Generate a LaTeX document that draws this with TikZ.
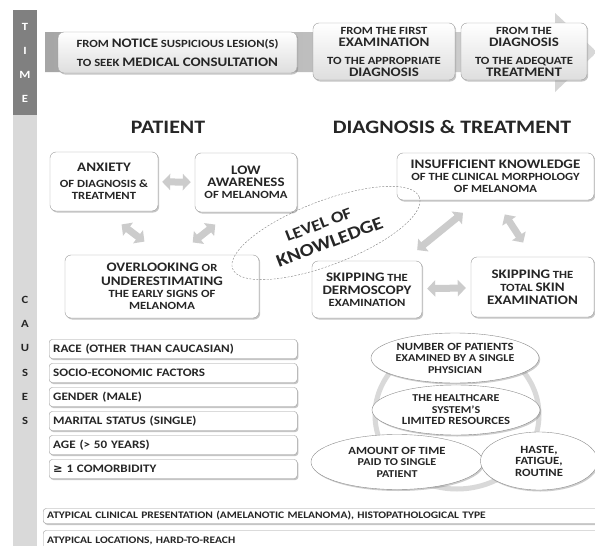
\documentclass[tikz,border=0pt]{standalone}
\usepackage{fontspec}
\setmainfont[FakeStretch=1.15]{Carlito}
\newfontfamily\symfont{DejaVu Sans}
\usetikzlibrary{positioning,shapes.geometric,shadows,arrows.meta}

\newcommand{\bigtxt}{\fontsize{13}{14}\selectfont}
\newcommand{\smtxt}{\fontsize{11}{12}\selectfont}

\tikzset{
  box/.style={draw=black!40, rounded corners=6pt, fill=white, align=center,
    font=\bfseries\smtxt, text=black!85, inner sep=1pt,
    drop shadow={shadow xshift=1.2pt, shadow yshift=-1.5pt, fill=black!50, opacity=.45}},
  timebox/.style={box, top color=white, bottom color=black!13},
  listbox/.style={box, rounded corners=3pt, anchor=west, minimum height=19pt,
    text width=240pt, align=left, inner xsep=4pt, font=\bfseries\fontsize{11.4}{12}\selectfont},
  oval/.style={ellipse, draw=black!45, fill=white, align=center, inner sep=0pt,
    font=\bfseries\fontsize{10.5}{11.5}\selectfont, text=black!85,
    drop shadow={shadow xshift=1.2pt, shadow yshift=-1.5pt, fill=black!50, opacity=.4}},
  dblarrow/.style={draw=black!20, line width=7pt,
    {Triangle[width=16pt,length=8pt]}-{Triangle[width=16pt,length=8pt]}},
  barletter/.style={font=\bfseries\fontsize{11}{11}\selectfont}
}

\begin{document}
\begin{tikzpicture}[x=1pt, y=-1pt]
    \useasboundingbox (0, 0) rectangle (595, 546);
    \fill[white] (0, 0) rectangle (595, 546);

    % side bar
    \fill[black!50] (13, 10) rectangle (37, 115);
    \fill[black!15] (13, 115) rectangle (37, 546);
    \foreach \ch [count=\i] in {T, I, M, E}
      \node [barletter, white] (tm\i) at (25, 27 + 24*\i - 24) {\ch};
    \foreach \ch [count=\i] in {C, A, U, S, E, S}
      \node [barletter, black!85] (cs\i) at (25, 300 + 24.2*\i - 24.2) {\ch};

    % time line
    \shade[left color=black!35, right color=black!15]
      (45, 32) -- (555, 32) -- (555, 13) -- (597, 52) -- (555, 92) -- (555, 72) -- (45, 72) -- cycle;
    \node (t1) [timebox, minimum width=239pt, minimum height=41pt] at (177.5, 52.5)
      {FROM {\bigtxt NOTICE} SUSPICIOUS LESION(S)\\[7pt] TO SEEK {\bigtxt MEDICAL CONSULTATION}};
    \node (t2) [timebox, minimum width=142pt, minimum height=57pt] at (384, 51.5)
      {FROM THE FIRST\\ {\bigtxt EXAMINATION}\\[6pt] TO THE APPROPRIATE\\ {\bigtxt DIAGNOSIS}};
    \node (t3) [timebox, minimum width=126pt, minimum height=57pt] at (524, 51.5)
      {FROM THE\\ {\bigtxt DIAGNOSIS}\\[6pt] TO THE ADEQUATE\\ {\bigtxt TREATMENT}};

    \node (pat) [font=\bfseries\fontsize{19}{20}\selectfont, text=black!85] at (168, 127) {PATIENT};
    \node (dt) [font=\bfseries\fontsize{19}{20}\selectfont, text=black!85] at (452, 127) {DIAGNOSIS \& TREATMENT};

    % patient
    \node (anx) [box, minimum width=108pt, minimum height=59pt] at (104, 181.5)
      {{\bigtxt ANXIETY}\\[4pt] OF DIAGNOSIS \&\\ TREATMENT};
    \node (low) [box, minimum width=102pt, minimum height=59pt] at (246, 182.5)
      {{\bigtxt LOW}\\ {\bigtxt AWARENESS}\\ OF MELANOMA};
    \node (over) [box, minimum width=194pt, minimum height=63pt] at (162, 286.5)
      {{\bigtxt OVERLOOKING} OR\\[2pt] {\bigtxt UNDERESTIMATING}\\ THE EARLY SIGNS OF\\ MELANOMA};
    \draw [dblarrow, shorten <=4pt, shorten >=4pt] (anx) -- (low);
    \draw [dblarrow, shorten <=22pt, shorten >=22pt] (anx.south) -- (over.north);
    \draw [dblarrow, shorten <=20pt, shorten >=20pt] ([xshift=-15pt]low.south) -- ([xshift=15pt]over.north);

    % diagnosis & treatment
    \node (ins) [box, minimum width=197pt, minimum height=47pt] at (495.5, 176.5)
      {{\bigtxt INSUFFICIENT KNOWLEDGE}\\ OF THE CLINICAL MORPHOLOGY\\ OF MELANOMA};
    \node (derm) [box, minimum width=110pt, minimum height=57pt] at (367, 289.5)
      {{\bigtxt SKIPPING} THE\\[1pt] {\bigtxt DERMOSCOPY}\\ EXAMINATION};
    \node (skin) [box, minimum width=123pt, minimum height=60pt] at (532.5, 287)
      {{\bigtxt SKIPPING} THE\\[1pt] TOTAL {\bigtxt SKIN}\\[1pt] {\bigtxt EXAMINATION}};
    \draw [dblarrow, shorten <=20pt, shorten >=17pt] ([xshift=-17pt]ins.south) -- ([xshift=37pt]derm.north);
    \draw [dblarrow, shorten <=17pt, shorten >=17pt] (ins.south) -- (skin.north);
    \draw [dblarrow, shorten <=5pt, shorten >=5pt] (derm) -- (skin);

    \node (lok) [ellipse, draw=black!50, dash pattern=on 2pt off 1.5pt, rotate=21,
      minimum width=200pt, minimum height=64pt, inner sep=0pt, align=center, text=black!85,
      font=\bfseries\fontsize{18}{21}\selectfont] at (326, 233)
      {\hspace*{-8pt}{\fontsize{16}{21}\selectfont LEVEL OF}\\ KNOWLEDGE};

    % patient factors
    \foreach \txt [count=\i] in {{RACE (OTHER THAN CAUCASIAN)}, {SOCIO-ECONOMIC FACTORS},
        {GENDER (MALE)}, {MARITAL STATUS (SINGLE)}, {AGE (> 50 YEARS)}, {{\symfont\bfseries ≥} 1 COMORBIDITY}}
      \node (f\i) [listbox] at (49, 349 + 24*\i - 24) {\txt};

    % healthcare system
    \draw [black!15, line width=5pt] (457, 415) ellipse [x radius=82, y radius=74];
    \node (n1) [oval, minimum width=166pt, minimum height=50pt] at (455, 358)
      {{\fontsize{11}{11.5}\selectfont NUMBER OF PATIENTS}\\ EXAMINED BY A SINGLE\\ PHYSICIAN};
    \node (n2) [oval, minimum width=168pt, minimum height=50pt] at (456, 410)
      {THE HEALTHCARE\\ SYSTEM'S\\ {\fontsize{11}{11.5}\selectfont LIMITED RESOURCES}};
    \node (n3) [oval, minimum width=172pt, minimum height=55pt] at (397, 462)
      {{\fontsize{11}{11.5}\selectfont AMOUNT OF TIME}\\ PAID TO SINGLE\\ PATIENT};
    \node (n4) [oval, minimum width=117pt, minimum height=58pt] at (539, 461)
      {{\fontsize{11}{11.5}\selectfont HASTE,}\\ {\fontsize{11}{11.5}\selectfont FATIGUE,}\\ {\fontsize{11}{11.5}\selectfont ROUTINE}};

    % tumour
    \node (a1) [listbox, minimum height=15pt, text width=550pt, font=\bfseries\fontsize{10}{11}\selectfont]
      at (43, 516) {ATYPICAL CLINICAL PRESENTATION (AMELANOTIC MELANOMA), HISTOPATHOLOGICAL TYPE};
    \node (a2) [listbox, minimum height=21pt, text width=550pt, font=\bfseries\fontsize{10}{11}\selectfont]
      at (43, 541) {ATYPICAL LOCATIONS, HARD-TO-REACH};
\end{tikzpicture}
\end{document}
